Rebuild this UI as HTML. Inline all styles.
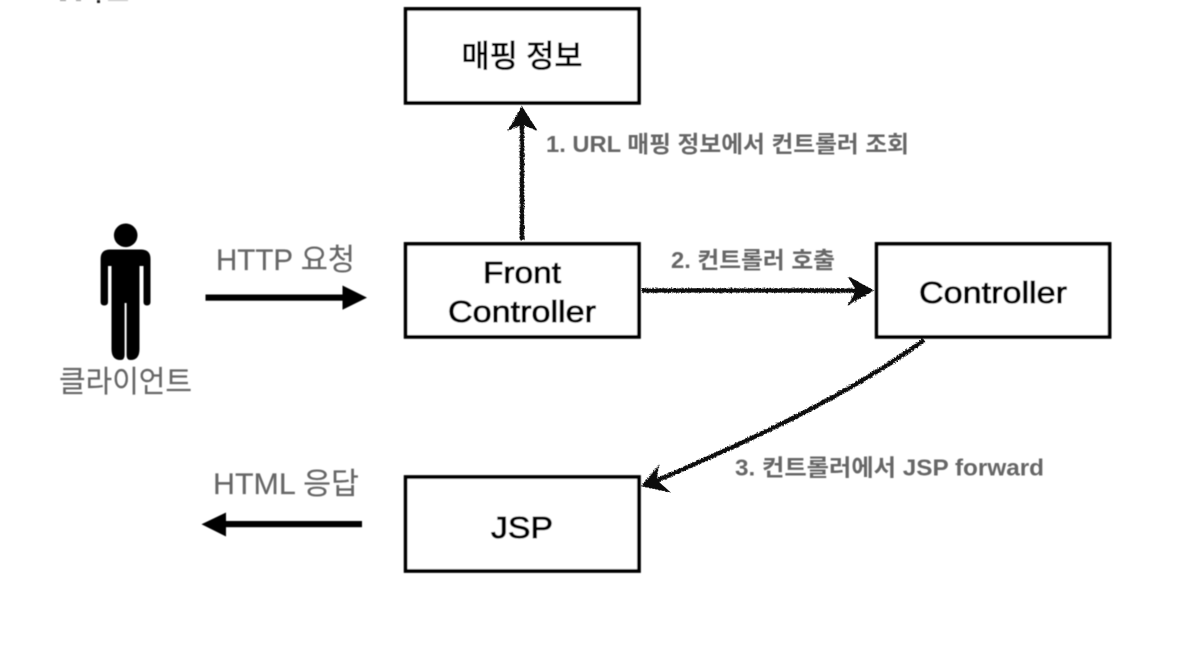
<!DOCTYPE html>
<html lang="ko">
<head>
<meta charset="utf-8">
<style>
html,body{margin:0;padding:0;background:#fff;width:1182px;height:648px;overflow:hidden}
svg{display:block}
text{font-family:"Liberation Sans","Noto Sans CJK KR",sans-serif}
.box{fill:#fff;stroke:#000;stroke-width:3.7}
.t{fill:#000;text-anchor:middle;font-size:31px;stroke:#000;stroke-width:.85}
.g{fill:#666;font-size:30px;stroke:#666;stroke-width:.15}
.b{fill:#666;font-size:23px;font-weight:700}
.h{fill:none;stroke:#111;stroke-width:4.4;stroke-linecap:butt}
</style>
</head>
<body>
<svg width="1182" height="648" viewBox="0 0 1182 648" xmlns="http://www.w3.org/2000/svg">
<defs>
<filter id="soft" x="-5%" y="-5%" width="110%" height="110%"><feGaussianBlur stdDeviation="0.5"/></filter>
<filter id="rough" x="-10%" y="-10%" width="120%" height="120%">
<feTurbulence type="fractalNoise" baseFrequency="0.7" numOctaves="2" seed="4"/>
<feDisplacementMap in="SourceGraphic" scale="3.4"/>
<feGaussianBlur stdDeviation="0.35"/>
</filter>
</defs>
<rect width="1182" height="648" fill="#fff"/>
<g filter="url(#soft)">
<!-- clipped top-left remnants -->
<rect x="60" y="0" width="6" height="1" fill="#888"/>
<rect x="76" y="0" width="5" height="1" fill="#888"/>
<rect x="97" y="0" width="3" height="3" fill="#222"/>
<rect x="108" y="0" width="20" height="1" fill="#bbb"/>

<!-- boxes -->
<rect class="box" x="405.6" y="8.9" width="233.4" height="94"/>
<rect class="box" x="405.6" y="243.9" width="233.4" height="93"/>
<rect class="box" x="876.6" y="243.9" width="233" height="93"/>
<rect class="box" x="405.6" y="477" width="233.4" height="94"/>

<text class="t" x="522" y="67" textLength="121" lengthAdjust="spacingAndGlyphs">매핑 정보</text>
<text class="t" x="522" y="283" textLength="78" lengthAdjust="spacingAndGlyphs">Front</text>
<text class="t" x="522" y="322" textLength="148" lengthAdjust="spacingAndGlyphs">Controller</text>
<text class="t" x="993" y="303" textLength="148" lengthAdjust="spacingAndGlyphs">Controller</text>
<text class="t" x="522" y="538" textLength="62" lengthAdjust="spacingAndGlyphs">JSP</text>

<!-- person -->
<circle cx="125.7" cy="235.3" r="11.8" fill="#000"/>
<path fill="#000" d="M110 249.5H141Q150.5 249.5 150.5 259V302Q150.5 305.5 147 305.5Q143.5 305.5 143.5 302V266H139.5V349Q139.5 360 130.500 360Q126.6 360 126.6 355V303H124.6V355Q124.6 360 120.5 360Q111.5 360 111.5 349V266H108V302Q108 305.5 104.3 305.5Q100.6 305.5 100.6 302V259Q100.6 249.5 110 249.500Z"/>

<text class="g" x="59" y="392" textLength="133" lengthAdjust="spacingAndGlyphs">클라이언트</text>
<text class="g" x="216" y="270" textLength="139" lengthAdjust="spacingAndGlyphs">HTTP 요청</text>
<text class="g" x="213" y="494" textLength="146" lengthAdjust="spacingAndGlyphs">HTML 응답</text>

<!-- solid arrows -->
<rect x="205.5" y="294.5" width="139" height="6.2" fill="#000"/>
<path d="M342.5 285.5L367 297.6L342.5 309.8Z" fill="#000"/>
<rect x="225" y="521" width="137" height="6.2" fill="#000"/>
<path d="M226 512.500L201.500 524.300L226 536.500Z" fill="#000"/>

<!-- labels -->
<text class="b" x="546" y="152" textLength="363" lengthAdjust="spacingAndGlyphs">1. URL 매핑 정보에서 컨트롤러 조회</text>
<text class="b" x="671" y="268" textLength="164" lengthAdjust="spacingAndGlyphs">2. 컨트롤러 호출</text>
<text class="b" x="735" y="475.500" textLength="309" lengthAdjust="spacingAndGlyphs">3. 컨트롤러에서 JSP forward</text>
</g>

<!-- sketchy arrows -->
<g filter="url(#rough)">
<path class="h" d="M522 240V120"/>
<path d="M522 107L536.500 130L522 124L508.500 130Z" fill="#111" stroke="#111" stroke-width="1"/>
<path class="h" d="M642 290.500H860"/>
<path d="M873 290.500L848.500 277L857 290.500L848.500 304.500Z" fill="#111" stroke="#111" stroke-width="1"/>
<path class="h" d="M924 340C850 394 760 436 656 481"/>
<path d="M642 486L658.500 466L656 480L669 491.500Z" fill="#111" stroke="#111" stroke-width="1"/>
</g>
</svg>
</body>
</html>
